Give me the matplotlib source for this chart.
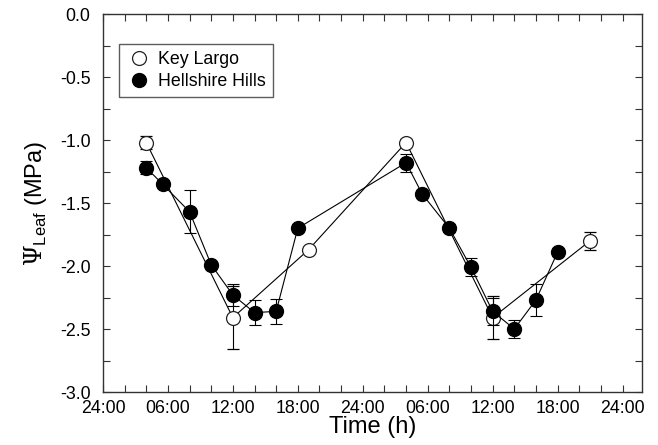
import matplotlib
matplotlib.use("Agg")
import matplotlib.pyplot as plt
from matplotlib.ticker import MultipleLocator, FixedLocator, FixedFormatter
from matplotlib.lines import Line2D

plt.rcParams['font.family'] = ['Liberation Sans', 'DejaVu Sans']
plt.rcParams['mathtext.fontset'] = 'custom'
plt.rcParams['mathtext.rm'] = 'DejaVu Serif'
plt.rcParams['mathtext.sf'] = 'Liberation Sans'

# Key Largo (open circles)
kl_time = [4, 12, 19, 28, 36, 45]
kl_psi = [-1.02, -2.41, -1.87, -1.02, -2.41, -1.80]
kl_err = [0.05, 0.25, 0.0, 0.03, 0.17, 0.07]

# Hellshire Hills (filled circles)
hh_time = [4, 5.5, 8, 10, 12, 14, 16, 18, 28, 29.5, 32, 34, 36, 38, 40, 42]
hh_psi = [-1.22, -1.35, -1.57, -1.99, -2.23, -2.37, -2.36, -1.70,
          -1.18, -1.43, -1.70, -2.01, -2.36, -2.50, -2.27, -1.89]
hh_err = [0.05, 0.0, 0.17, 0.0, 0.09, 0.10, 0.10, 0.0,
          0.07, 0.0, 0.03, 0.07, 0.11, 0.07, 0.13, 0.0]

xtick_pos = [0, 6, 12, 18, 24, 30, 36, 42, 48]
xtick_labels = ['24:00', '06:00', '12:00', '18:00', '24:00', '06:00', '12:00', '18:00', '24:00']

fig = plt.figure(figsize=(6.58, 4.45), dpi=100)
ax = fig.add_axes([0.1565, 0.1191, 0.8192, 0.8494])

lw = 0.8
ax.errorbar(kl_time, kl_psi, yerr=kl_err, fmt='-o', color='black', lw=lw,
            mfc='white', mec='#222222', mew=0.9, ms=10, capsize=4, elinewidth=lw,
            capthick=lw, zorder=3)
ax.errorbar(hh_time, hh_psi, yerr=hh_err, fmt='-o', color='black', lw=lw,
            mfc='black', mec='black', ms=10, capsize=4, elinewidth=lw,
            capthick=lw, zorder=4)

ax.set_xlim(0, 49.8)
ax.set_ylim(-3.0, 0.0)
ax.xaxis.set_major_locator(FixedLocator(xtick_pos))
ax.xaxis.set_major_formatter(FixedFormatter(xtick_labels))
ax.xaxis.set_minor_locator(MultipleLocator(2))
ax.yaxis.set_major_locator(MultipleLocator(0.5))
ax.yaxis.set_minor_locator(MultipleLocator(0.25))
ax.yaxis.set_major_formatter(matplotlib.ticker.FormatStrFormatter('%.1f'))

for which in ('major', 'minor'):
    ax.tick_params(which=which, direction='in', top=True, right=True,
                   length=5, width=0.8, color='#333333')
ax.tick_params(which='major', labelsize=12.8)
ax.tick_params(axis='y', which='major', pad=9)
ax.tick_params(axis='x', which='major', pad=6)
for s in ax.spines.values():
    s.set_color('#333333')
    s.set_linewidth(1.0)

ax.set_xlabel('Time (h)', fontsize=17, labelpad=-1)
ax.set_ylabel(r'$\Psi_{\mathsf{Leaf}}$ (MPa)', fontsize=17, labelpad=8)

handles = [
    Line2D([], [], ls='none', marker='o', mfc='white', mec='#222222', mew=0.9, ms=10),
    Line2D([], [], ls='none', marker='o', mfc='black', mec='black', ms=10),
]
leg = ax.legend(handles, ['Key Largo', 'Hellshire Hills'], loc='upper left',
                bbox_to_anchor=(0.03, 0.92), fontsize=12.8, frameon=True,
                fancybox=False, edgecolor='#333333', handletextpad=0.4,
                handlelength=1.4, borderpad=0.4, labelspacing=0.25, borderaxespad=0)
leg.get_frame().set_linewidth(1.0)

fig.savefig('out.png', dpi=100)
